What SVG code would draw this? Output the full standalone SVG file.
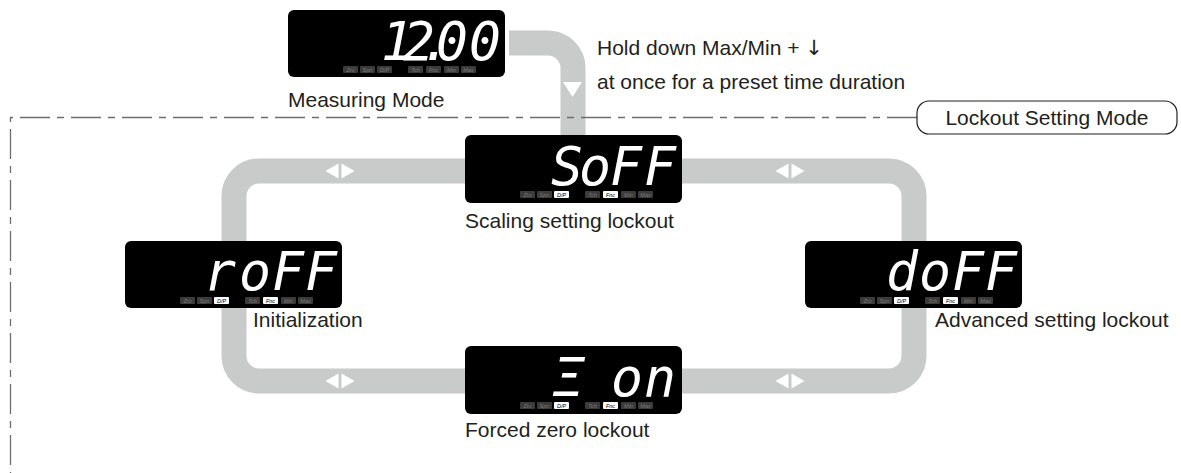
<svg xmlns="http://www.w3.org/2000/svg" xmlns:xlink="http://www.w3.org/1999/xlink" width="1181" height="473" viewBox="0 0 1181 473">
<style>
.lbl{font-family:"Liberation Sans",Arial,sans-serif;font-size:21px;fill:#231f20}
.sym{font-family:"DejaVu Sans",sans-serif}
.seg{font-family:"DejaVu Sans Mono",monospace;font-size:53px;font-style:oblique;fill:#fff;text-anchor:middle}
.band{fill:none;stroke:#c9caca;stroke-width:25}
.disp{fill:#000}
.ind{font-family:"Liberation Sans",Arial,sans-serif;font-size:5.5px;font-style:italic;text-anchor:middle}
.off{fill:#3b3b3b}
.offt{fill:#7a7a7a}
.on{fill:#fff}
.ont{fill:#000}
.arr{fill:#fff}
.dash{fill:none;stroke:#6d6e71;stroke-width:1.3;stroke-dasharray:30 7 7 7}
</style>
<defs>
<g id="indOff">
<rect class="off" x="55" y="56" width="15" height="7" rx="1"/><text class="ind offt" x="62.5" y="61.8">Zro</text>
<rect class="off" x="72" y="56" width="15" height="7" rx="1"/><text class="ind offt" x="79.5" y="61.8">Spn</text>
<rect class="off" x="89" y="56" width="15" height="7" rx="1"/><text class="ind offt" x="96.5" y="61.8">D/P</text>
<rect class="off" x="120" y="56" width="15" height="7" rx="1"/><text class="ind offt" x="127.5" y="61.8">Tch</text>
<rect class="off" x="138" y="56" width="15" height="7" rx="1"/><text class="ind offt" x="145.5" y="61.8">Fnc</text>
<rect class="off" x="156" y="56" width="15" height="7" rx="1"/><text class="ind offt" x="163.5" y="61.8">Min</text>
<rect class="off" x="173" y="56" width="15" height="7" rx="1"/><text class="ind offt" x="180.5" y="61.8">Max</text>
</g>
<g id="indLit">
<rect class="off" x="55" y="56" width="15" height="7" rx="1"/><text class="ind offt" x="62.5" y="61.8">Zro</text>
<rect class="off" x="72" y="56" width="15" height="7" rx="1"/><text class="ind offt" x="79.5" y="61.8">Spn</text>
<rect class="on" x="89" y="56" width="15" height="7" rx="1"/><text class="ind ont" x="96.5" y="61.8">D/P</text>
<rect class="off" x="120" y="56" width="15" height="7" rx="1"/><text class="ind offt" x="127.5" y="61.8">Tch</text>
<rect class="on" x="138" y="56" width="15" height="7" rx="1"/><text class="ind ont" x="145.5" y="61.8">Fnc</text>
<rect class="off" x="156" y="56" width="15" height="7" rx="1"/><text class="ind offt" x="163.5" y="61.8">Min</text>
<rect class="off" x="173" y="56" width="15" height="7" rx="1"/><text class="ind offt" x="180.5" y="61.8">Max</text>
</g>
<g id="lr">
<polygon class="arr" points="-14.5,0 -1.5,-7.5 -1.5,7.5"/>
<polygon class="arr" points="14.5,0 1.5,-7.5 1.5,7.5"/>
</g>
</defs>

<g id="connectors">
<rect class="band" x="234" y="171" width="680" height="210" rx="25"/>
<path class="band" d="M 509 43 H 548 A 25 25 0 0 1 573 68 V 140"/>
<polygon class="arr" points="563,82 582,82 572.5,97"/>
<use xlink:href="#lr" x="340" y="171"/>
<use xlink:href="#lr" x="790" y="171"/>
<use xlink:href="#lr" x="340" y="381"/>
<use xlink:href="#lr" x="790" y="381"/>
<path class="dash" d="M 917 117.5 H 10.5 V 473"/>
</g>

<g id="lockout-mode">
<rect x="917" y="101" width="260" height="33" rx="12" fill="#fff" stroke="#231f20" stroke-width="1.2"/>
<text class="lbl" x="1047" y="125" text-anchor="middle">Lockout Setting Mode</text>
</g>

<g id="instruction">
<text class="lbl" x="597" y="55">Hold down Max/Min + <tspan class="sym">↓</tspan></text>
<text class="lbl" x="597" y="89">at once for a preset time duration</text>
</g>

<g id="measuring">
<rect class="disp" x="288" y="10" width="217" height="67" rx="6"/>
<text class="seg" x="397 419 436 452 485" y="60">12.00</text>
<use xlink:href="#indOff" x="288" y="10"/>
<text class="lbl" x="288" y="107">Measuring Mode</text>
</g>

<g id="scaling">
<rect class="disp" x="465" y="135" width="217" height="68" rx="6"/>
<text class="seg" x="567 595 626 660" y="185">SoFF</text>
<use xlink:href="#indLit" x="465" y="135"/>
<text class="lbl" x="465" y="228">Scaling setting lockout</text>
</g>

<g id="initialization">
<rect class="disp" x="125" y="241" width="217" height="67" rx="6"/>
<text class="seg" x="220 255 288 321" y="290">roFF</text>
<use xlink:href="#indLit" x="125" y="241"/>
<text class="lbl" x="253" y="327">Initialization</text>
</g>

<g id="advanced">
<rect class="disp" x="805" y="241" width="217" height="67" rx="6"/>
<text class="seg" x="902 935 968 1001" y="290">doFF</text>
<use xlink:href="#indLit" x="805" y="241"/>
<text class="lbl" x="935" y="327">Advanced setting lockout</text>
</g>

<g id="forced-zero">
<rect class="disp" x="465" y="346" width="217" height="68" rx="6"/>
<text class="seg" x="569 627 660" y="396">Ξon</text>
<use xlink:href="#indLit" x="465" y="346"/>
<text class="lbl" x="465" y="437">Forced zero lockout</text>
</g>
</svg>
